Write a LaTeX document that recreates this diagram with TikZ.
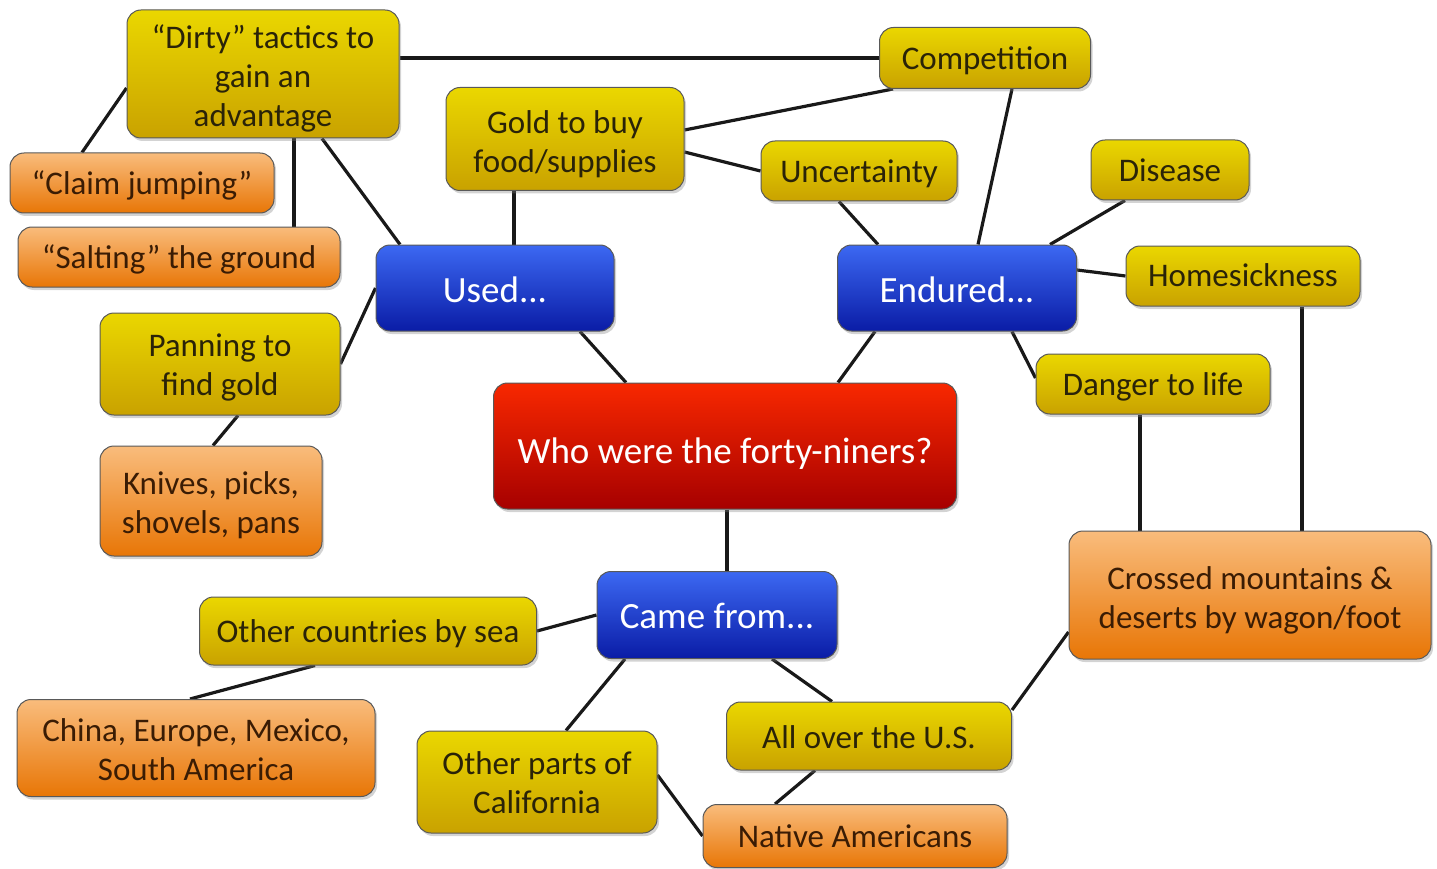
\documentclass[tikz,border=0pt]{standalone}
\usepackage{fontspec}
\setmainfont{Carlito}
\usetikzlibrary{shadows,backgrounds,calc}
\definecolor{ytop}{HTML}{EAD700}
\definecolor{ybot}{HTML}{C9A200}
\definecolor{otop}{HTML}{F9BC7C}
\definecolor{obot}{HTML}{E87606}
\definecolor{btop}{HTML}{3C68F2}
\definecolor{bbot}{HTML}{0A1CA6}
\definecolor{rtop}{HTML}{F82800}
\definecolor{rbot}{HTML}{A60000}
\definecolor{ytext}{HTML}{2A2308}
\definecolor{otext}{HTML}{3A1C04}
\newcommand\boxtext[2][-6pt]{\raisebox{#1}[\height][\depth]{\begin{tabular}{@{}c@{}}#2\end{tabular}}}
\tikzset{
  box/.style={rounded corners=14pt, draw=black!65, line width=1pt, inner sep=0pt,
    drop shadow={opacity=0.35, shadow xshift=2pt, shadow yshift=-3pt}},
  sz/.style 2 args={minimum width=#1pt, minimum height=#2pt},
  ynode/.style={box, top color=ytop, bottom color=ybot, text=ytext, font=\fontsize{33}{39}\selectfont},
  onode/.style={box, top color=otop, bottom color=obot, text=otext, font=\fontsize{33}{39}\selectfont},
  bnode/.style={box, top color=btop, bottom color=bbot, text=white, font=\fontsize{37}{42}\selectfont},
  rnode/.style={box, top color=rtop, bottom color=rbot, text=white, font=\fontsize{37}{42}\selectfont},
  conn/.style={line width=3.2pt, black!90}
}
\begin{document}
\begin{tikzpicture}[x=1pt,y=-1pt]
\useasboundingbox (0,0) rectangle (1437,869);
% nodes
\node[ynode, sz={272}{128}] (dirty) at (263,74) {\boxtext{``Dirty'' tactics to\\gain an\\advantage}};
\node[ynode, sz={211}{61}] (comp) at (985,58) {\boxtext[-4pt]{Competition}};
\node[ynode, sz={238}{103}] (gold) at (565,139) {\boxtext{Gold to buy\\food/supplies}};
\node[ynode, sz={196}{60}] (unc) at (859,171) {\boxtext[-4pt]{Uncertainty}};
\node[ynode, sz={158}{60}] (dis) at (1170,170) {\boxtext[-4pt]{Disease}};
\node[onode, sz={264}{60}] (claim) at (142,183) {\boxtext[-4pt]{``Claim jumping''}};
\node[onode, sz={322}{60}] (salt) at (179,257) {\boxtext[-4pt]{``Salting'' the ground}};
\node[bnode, sz={238}{86}] (used) at (495,288) {\boxtext{Used...}};
\node[bnode, sz={239}{86}] (endu) at (957,288) {\boxtext{Endured...}};
\node[ynode, sz={234}{60}] (home) at (1243,276) {\boxtext[-3pt]{Homesickness}};
\node[ynode, sz={240}{102}] (pan) at (220,364) {\boxtext[-4pt]{Panning to\\find gold}};
\node[ynode, sz={234}{60}] (dang) at (1153,384) {\boxtext[-4pt]{Danger to life}};
\node[rnode, sz={463}{126}] (who) at (725,446) {\boxtext[-9pt]{Who were the forty-niners?}};
\node[onode, sz={222}{110}] (kniv) at (211,501) {\boxtext[-5pt]{Knives, picks,\\shovels, pans}};
\node[onode, sz={362}{128}] (cross) at (1250,595) {\boxtext[-6pt]{Crossed mountains \&\\deserts by wagon/foot}};
\node[bnode, sz={240}{87}] (came) at (717,615) {\boxtext[-5pt]{Came from...}};
\node[ynode, sz={337}{68}] (othc) at (368,631) {\boxtext[-4pt]{Other countries by sea}};
\node[onode, sz={358}{97}] (china) at (196,748) {\boxtext[-5pt]{China, Europe, Mexico,\\South America}};
\node[ynode, sz={285}{68}] (allus) at (869,736) {\boxtext[-5pt]{All over the U.S.}};
\node[ynode, sz={240}{102}] (othp) at (537,782) {\boxtext[-4pt]{Other parts of\\California}};
\node[onode, sz={304}{63}] (nat) at (855,836) {\boxtext[-4pt]{Native Americans}};
\coordinate (dangfoot) at ([xshift=-13pt]dang.south);
\coordinate (homefoot) at ([xshift=59pt]home.south);
% connectors
\begin{scope}[on background layer]
\draw[conn] (comp.west) -- (comp.west -| dirty.east);
\draw[conn] ([yshift=-14pt]dirty.west) -- ([xshift=-60pt]claim.north);
\draw[conn] ([xshift=31pt]dirty.south) -- ([xshift=115pt]salt.north);
\draw[conn] ([xshift=59pt]dirty.south) -- ([xshift=-95pt]used.north);
\draw[conn] ([xshift=-51pt]gold.south) -- ([xshift=19pt]used.north);
\draw[conn] ([yshift=9pt]gold.east) -- ([xshift=-92pt]comp.south);
\draw[conn] ([yshift=-13pt]gold.east) -- (unc.west);
\draw[conn] ([xshift=-20pt]unc.south) -- ([xshift=-79pt]endu.north);
\draw[conn] ([xshift=27pt]comp.south) -- ([xshift=21pt]endu.north);
\draw[conn] ([xshift=-45pt]dis.south) -- ([xshift=93pt]endu.north);
\draw[conn] ([yshift=18pt]endu.east) -- (home.west);
\draw[conn] ([xshift=55pt]endu.south) -- ([yshift=6pt]dang.west);
\draw[conn] (used.west) -- (pan.east);
\draw[conn] ([xshift=18pt]pan.south) -- ([xshift=2pt]kniv.north);
\draw[conn] ([xshift=85pt]used.south) -- ([xshift=-99pt]who.north);
\draw[conn] ([xshift=-82pt]endu.south) -- ([xshift=113pt]who.north);
\draw[conn] ([xshift=2pt]who.south) -- ([xshift=10pt]came.north);
\draw[conn] (dangfoot) -- (dangfoot |- cross.north);
\draw[conn] (homefoot) -- (homefoot |- cross.north);
\draw[conn] ([yshift=-37pt]cross.west) -- ([yshift=26pt]allus.east);
\draw[conn] (came.west) -- (othc.east);
\draw[conn] ([xshift=-53pt]othc.south) -- ([xshift=-6pt]china.north);
\draw[conn] ([xshift=-92pt]came.south) -- ([xshift=29pt]othp.north);
\draw[conn] ([xshift=55pt]came.south) -- ([xshift=-37pt]allus.north);
\draw[conn] ([xshift=-54pt]allus.south) -- ([xshift=-80pt]nat.north);
\draw[conn] ([yshift=7pt]othp.east) -- (nat.west);
\end{scope}
\end{tikzpicture}
\end{document}
